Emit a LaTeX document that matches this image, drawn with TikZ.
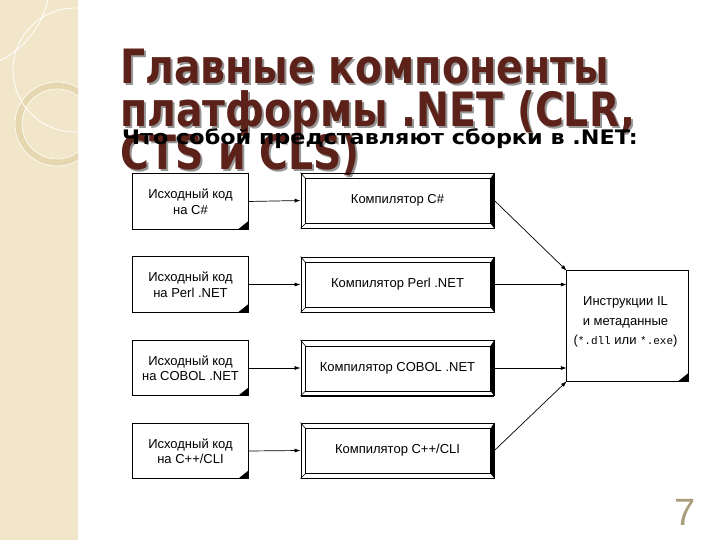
\documentclass[tikz,border=0pt]{standalone}
\usepackage{fontspec}
\setmainfont{Liberation Sans}
\setmonofont{Liberation Mono}
\newfontfamily\titlefont{DejaVu Sans}
\usetikzlibrary{arrows.meta,calc}
\definecolor{band}{RGB}{241,230,201}
\definecolor{ringc}{RGB}{230,215,176}
\definecolor{titlec}{RGB}{92,33,24}
\definecolor{shadowc}{RGB}{150,150,150}
\definecolor{numc}{RGB}{168,158,124}
\newcommand\docbox[1]{%
  \draw[line width=0.9pt] (#1.north west) rectangle (#1.south east);
  \fill ([yshift=8pt]#1.south east) -- (#1.south east) -- ([xshift=-10pt]#1.south east) -- cycle;}
\newcommand\bevelbox[1]{%
  \coordinate (#1a) at ([xshift=5pt,yshift=-6pt]#1.north west);
  \coordinate (#1b) at ([xshift=-4pt,yshift=-6pt]#1.north east);
  \coordinate (#1c) at ([xshift=-4pt,yshift=5pt]#1.south east);
  \coordinate (#1d) at ([xshift=5pt,yshift=5pt]#1.south west);
  \fill (#1.north east) -- (#1.south east) -- (#1c) -- (#1b) -- cycle;
  \draw[line width=0.6pt] (#1a) -- (#1b) -- (#1c) -- (#1d) -- cycle;
  \draw[line width=0.6pt] (#1.north west) -- (#1a) (#1.south west) -- (#1d);
  \draw[line width=1.4pt] (#1.south west) -- (#1.south east);}
\newcommand\ttltext[1]{\scalebox{1}[1.2]{#1}}
\begin{document}
\begin{tikzpicture}[x=1pt,y=-1pt,
  src/.style={minimum width=115pt,minimum height=55pt,inner sep=0pt,align=center,
    font=\fontsize{13}{15.5}\selectfont},
  comp/.style={draw,line width=0.8pt,minimum width=193pt,minimum height=55pt,inner sep=0pt},
  comptext/.style={font=\fontsize{13}{15}\selectfont},
  ilbox/.style={minimum width=121pt,minimum height=110pt,inner sep=0pt},
  iltext/.style={align=center,inner sep=0pt,font=\fontsize{13}{19.5}\selectfont},
  ttl/.style={anchor=base west,inner sep=0pt,font=\titlefont\bfseries\fontsize{39.4}{43}\selectfont},
  arr/.style={-{Latex[length=6pt,width=4pt]},line width=0.7pt}]
\useasboundingbox (0,0) rectangle (720,540);
\fill[white] (0,0) rectangle (720,540);
\fill[band] (0,0) rectangle (78,540);
\begin{scope}
  \clip (0,0) rectangle (78,540);
  \draw[ringc, line width=7pt] (57,124) circle[radius=38.5];
  \draw[white, line width=0.6pt] (57,124) circle[radius=42];
  \draw[white, line width=0.6pt] (57,124) circle[radius=35];
  \draw[white, line width=0.8pt] (75,70) circle[radius=62];
  \draw[white, line width=0.8pt] (-40,-20) circle[radius=90];
\end{scope}

% title with shadow
\node[ttl,text=shadowc] (t1s) at (122,86) {\ttltext{Главные компоненты}};
\node[ttl,text=shadowc] (t2s) at (122,129) {\ttltext{платформы .NET (CLR,}};
\node[ttl,text=shadowc] (t3s) at (122,172) {\ttltext{CTS и CLS)}};
\node[ttl,text=titlec] (t1) at (120,84) {\ttltext{Главные компоненты}};
\node[ttl,text=titlec] (t2) at (120,127) {\ttltext{платформы .NET (CLR,}};
\node[ttl,text=titlec] (t3) at (120,170) {\ttltext{CTS и CLS)}};
\node[anchor=base west,inner sep=0pt,font=\titlefont\bfseries\fontsize{20}{24}\selectfont]
  (sub) at (122,145) {\scalebox{1.115}[1]{Что собой представляют сборки в .NET:}};

% source boxes
\node[src] (s1) at (190.5,201.5) {Исходный код\\на C\#};
\node[src] (s2) at (190.5,284.5) {Исходный код\\на Perl .NET};
\node[src] (s3) at (190.5,368) {Исходный код\\на COBOL .NET};
\node[src] (s4) at (190.5,451) {Исходный код\\на C++/CLI};
\docbox{s1}\docbox{s2}\docbox{s3}\docbox{s4}

% compilers
\node[comp] (c1) at (397.5,200.5) {};
\node[comp] (c2) at (397.5,284.5) {};
\node[comp] (c3) at (397.5,368) {};
\node[comp] (c4) at (397.5,450.5) {};
\bevelbox{c1}\bevelbox{c2}\bevelbox{c3}\bevelbox{c4}
\node[comptext] (c1t) at (c1) {Компилятор C\#};
\node[comptext] (c2t) at (c2) {Компилятор Perl .NET};
\node[comptext] (c3t) at (c3) {Компилятор COBOL .NET};
\node[comptext] (c4t) at (c4) {Компилятор C++/CLI};

% IL box
\node[ilbox] (il) at (627.5,326) {};
\docbox{il}
\node[iltext] (ilt) at (625.5,322) {Инструкции IL\\и метаданные\\({\fontsize{11}{19.5}\selectfont\ttfamily *.dll} или {\fontsize{11}{19.5}\selectfont\ttfamily *.exe})};

% arrows
\draw[arr] (s1.east) -- (c1.west);
\draw[arr] (s2.east) -- (c2.west);
\draw[arr] (s3.east) -- (c3.west);
\draw[arr] (s4.east) -- (c4.west);
\draw[arr] (c1.east) -- (il.north west);
\draw[arr] (c2.east) -- (c2.east -| il.west);
\draw[arr] (c3.east) -- (c3.east -| il.west);
\draw[arr] (c4.east) -- (il.south west);

% page number
\node[anchor=base,inner sep=0pt,text=numc,font=\fontsize{38}{40}\selectfont] (pg) at (685,525) {7};
\end{tikzpicture}
\end{document}
